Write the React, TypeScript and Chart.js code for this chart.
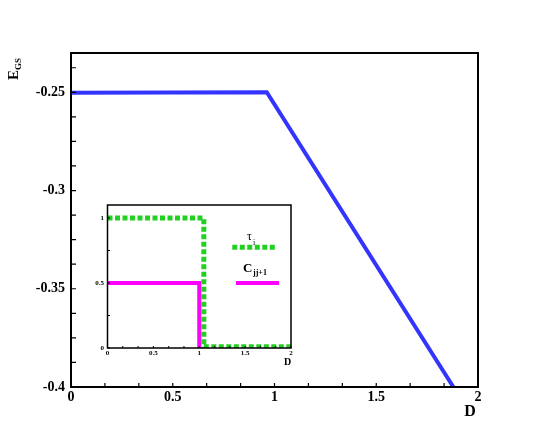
import React, { useEffect, useRef } from "react";
import { Chart, registerables } from "chart.js";
Chart.register(...registerables);

const FONT = '"Liberation Serif", "Times New Roman", serif';

// ---- main chart data ----
const egsD = [0, 0.962, 1.879];
const egsE = [-0.2502, -0.25, -0.4];
const mainXTicks = [0, 0.5, 1, 1.5, 2];
const mainYTicks = [-0.4, -0.35, -0.3, -0.25];
const mainXMinorStep = 1 / 6;
const mainYMinorStep = 0.0125;

// ---- inset data ----
const tauD = [0, 1.05, 1.05, 2];
const tauV = [1, 1, 0.01, 0.01];
const corrD = [0, 1.0, 1.0];
const corrV = [0.5, 0.5, 0];
const tauKeyD = [1.36, 1.85];
const tauKeyV = [0.775, 0.775];
const corrKeyD = [1.4, 1.87];
const corrKeyV = [0.5, 0.5];
const insetXTicks = [0, 0.5, 1, 1.5, 2];
const insetYTicks = [0, 0.5, 1];
const insetXMinorStep = 1 / 6;
const insetYMinorStep = 0.25;

const BLUE = "#3434ff";
const GREEN = "#22d022";
const MAGENTA = "#ff00ff";

const pts = (xs: number[], ys: number[]) => xs.map((x, i) => ({ x, y: ys[i] }));

function drawFrame(chart: any, lw: number, xTick: number, yTick: number, xStep: number, yStep: number) {
  const ctx = chart.ctx;
  const { left, right, top, bottom } = chart.chartArea;
  const xs = chart.scales.x;
  const ys = chart.scales.y;
  ctx.save();
  ctx.strokeStyle = "#000";
  ctx.lineWidth = Math.max(1, lw * 0.6);
  ctx.beginPath();
  for (let v = xs.min; v <= xs.max + 1e-9; v += xStep) {
    const px = xs.getPixelForValue(v);
    ctx.moveTo(px, bottom);
    ctx.lineTo(px, bottom - xTick);
  }
  for (let v = ys.min; v <= ys.max + 1e-9; v += yStep) {
    const py = ys.getPixelForValue(v);
    ctx.moveTo(left, py);
    ctx.lineTo(left + yTick, py);
  }
  ctx.stroke();
  ctx.lineWidth = lw;
  ctx.strokeRect(left, top, right - left, bottom - top);
  ctx.restore();
}

export default function App() {
  const mainRef = useRef<HTMLCanvasElement>(null);
  const insetRef = useRef<HTMLCanvasElement>(null);

  useEffect(() => {
    const mainPlugin = {
      id: "mainDecor",
      afterDraw(chart: any) {
        drawFrame(chart, 2, 4, 5, mainXMinorStep, mainYMinorStep);
        const ctx = chart.ctx;
        ctx.save();
        ctx.fillStyle = "#000";
        ctx.textBaseline = "alphabetic";
        // D axis title
        ctx.font = `bold 16px ${FONT}`;
        ctx.textAlign = "center";
        ctx.fillText("D", 470, 416);
        // E_GS axis title (rotated)
        ctx.translate(18, 80);
        ctx.rotate(-Math.PI / 2);
        ctx.textAlign = "left";
        ctx.font = `bold 15px ${FONT}`;
        ctx.fillText("E", 0, 0);
        const w = ctx.measureText("E").width;
        ctx.font = `bold 9px ${FONT}`;
        ctx.fillText("GS", w, 2.5);
        ctx.restore();
      },
    };

    const main = new Chart(mainRef.current!, {
      type: "line",
      data: {
        datasets: [
          {
            data: pts(egsD, egsE),
            borderColor: BLUE,
            borderWidth: 4,
            pointRadius: 0,
            fill: false,
          },
        ],
      },
      options: {
        animation: false,
        responsive: false,
        maintainAspectRatio: false,
        layout: { padding: { left: 0, top: 53, right: 67, bottom: 0 } },
        plugins: { legend: { display: false }, tooltip: { enabled: false } },
        scales: {
          x: {
            type: "linear",
            min: 0,
            max: 2,
            grid: { display: false, drawTicks: false },
            border: { display: false },
            afterBuildTicks: (s: any) => {
              s.ticks = mainXTicks.map((v) => ({ value: v }));
            },
            afterFit: (s: any) => {
              s.height = 49;
            },
            ticks: {
              padding: 1.5,
              color: "#000",
              font: { family: FONT, size: 14, weight: "bold" },
              callback: (v: any) => String(v),
            },
          },
          y: {
            type: "linear",
            min: -0.4,
            max: -0.23,
            grid: { display: false, drawTicks: false },
            border: { display: false },
            afterBuildTicks: (s: any) => {
              s.ticks = mainYTicks.map((v) => ({ value: v }));
            },
            afterFit: (s: any) => {
              s.width = 71;
            },
            ticks: {
              padding: 6,
              color: "#000",
              font: { family: FONT, size: 14, weight: "bold" },
              callback: (v: any) => String(v),
            },
          },
        },
      },
      plugins: [mainPlugin],
    } as any);

    const insetPlugin = {
      id: "insetDecor",
      beforeDraw(chart: any) {
        const ctx = chart.ctx;
        const { left, right, top, bottom } = chart.chartArea;
        ctx.save();
        ctx.fillStyle = "#fff";
        ctx.fillRect(left, top, right - left, bottom - top);
        ctx.restore();
      },
      afterDraw(chart: any) {
        drawFrame(chart, 1.5, 2, 2.5, insetXMinorStep, insetYMinorStep);
        const ctx = chart.ctx;
        ctx.save();
        ctx.fillStyle = "#000";
        ctx.textBaseline = "alphabetic";
        ctx.textAlign = "left";
        ctx.font = `bold 10px ${FONT}`;
        ctx.fillText("D", 204, 170);
        ctx.font = `12px ${FONT}`;
        ctx.fillText("τ", 167, 45);
        ctx.font = `8px ${FONT}`;
        ctx.fillText("i", 173, 50);
        ctx.font = `bold 13px ${FONT}`;
        ctx.fillText("C", 163, 77);
        ctx.font = `bold 8px ${FONT}`;
        ctx.fillText("jj+1", 173, 80);
        ctx.restore();
      },
    };

    const inset = new Chart(insetRef.current!, {
      type: "line",
      data: {
        datasets: [
          {
            data: pts(corrD, corrV),
            borderColor: MAGENTA,
            borderWidth: 4,
            pointRadius: 0,
            fill: false,
          },
          {
            data: pts(tauD, tauV),
            borderColor: GREEN,
            borderWidth: 5,
            borderDash: [5, 2.5],
            pointRadius: 0,
            fill: false,
          },
          {
            data: pts(tauKeyD, tauKeyV),
            borderColor: GREEN,
            borderWidth: 5,
            borderDash: [5, 2.5],
            pointRadius: 0,
            fill: false,
          },
          {
            data: pts(corrKeyD, corrKeyV),
            borderColor: MAGENTA,
            borderWidth: 4,
            pointRadius: 0,
            fill: false,
          },
        ],
      },
      options: {
        animation: false,
        responsive: false,
        maintainAspectRatio: false,
        layout: { padding: { left: 0, top: 10, right: 14, bottom: 0 } },
        plugins: { legend: { display: false }, tooltip: { enabled: false } },
        scales: {
          x: {
            type: "linear",
            min: 0,
            max: 2,
            grid: { display: false, drawTicks: false },
            border: { display: false },
            afterBuildTicks: (s: any) => {
              s.ticks = insetXTicks.map((v) => ({ value: v }));
            },
            afterFit: (s: any) => {
              s.height = 22;
            },
            ticks: {
              padding: 1,
              color: "#000",
              font: { family: FONT, size: 7, weight: "bold" },
              callback: (v: any) => String(v),
            },
          },
          y: {
            type: "linear",
            min: 0,
            max: 1.1,
            grid: { display: false, drawTicks: false },
            border: { display: false },
            afterBuildTicks: (s: any) => {
              s.ticks = insetYTicks.map((v) => ({ value: v }));
            },
            afterFit: (s: any) => {
              s.width = 27.5;
            },
            ticks: {
              padding: 3.5,
              color: "#000",
              font: { family: FONT, size: 7, weight: "bold" },
              callback: (v: any) => String(v),
            },
          },
        },
      },
      plugins: [insetPlugin],
    } as any);

    return () => {
      main.destroy();
      inset.destroy();
    };
  }, []);

  return (
    <div
      style={{
        position: "fixed",
        left: 0,
        top: 0,
        width: 545,
        height: 436,
        background: "#fff",
      }}
    >
      <canvas
        ref={mainRef}
        width={545}
        height={436}
        style={{ position: "absolute", left: 0, top: 0, width: 545, height: 436 }}
      />
      <canvas
        ref={insetRef}
        width={225}
        height={175}
        style={{ position: "absolute", left: 80, top: 195, width: 225, height: 175 }}
      />
    </div>
  );
}
